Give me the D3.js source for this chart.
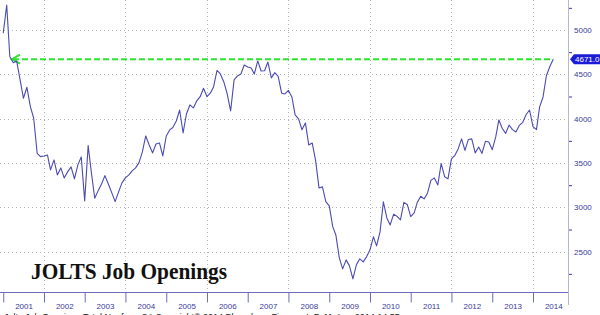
<!DOCTYPE html>
<meta charset="utf-8">
<style>
    body { margin: 0; background: #fff; }
    svg { display: block; }
    .grid line { stroke: #b4b4b4; stroke-width: 1; stroke-dasharray: 1, 3; }
    .axis text { font: 8px "Liberation Sans", sans-serif; fill: #3a3aa0; }
    .axis path { display: none; }
    .yaxis .tick line { stroke: #3a3aa0; }
    .xaxis .tick line { stroke: #6b6bc0; }
    .series { fill: none; stroke: #4b4bb4; stroke-width: 1.1; stroke-linejoin: round; }
    .last { fill: none; stroke: #2ee22e; stroke-width: 2; stroke-dasharray: 6, 3; }
    .title { font: bold 23px "Liberation Serif", "Times New Roman", serif; fill: #111; }
    .source { font: 9px "Liberation Sans", sans-serif; fill: #222; }
</style>
<body>
<script src="https://cdn.jsdelivr.net/npm/d3@7/dist/d3.min.js"></script>
<script>

    // monthly JOLTS job openings (thousands), Dec 2000 .. Jun 2014
    var startMonth = "2000-12";
    var openings = [
        4963, 5282, 4699, 4631, 4651, 4437, 4230, 4354, 4136, 4005, 3610, 3572,
        3580, 3591, 3422, 3535, 3366, 3445, 3332, 3400, 3456, 3321, 3479, 3569,
        3073, 3696, 3400, 3103, 3186, 3264, 3358, 3264, 3163, 3065, 3174, 3276,
        3332, 3366, 3411, 3445, 3501, 3625, 3805, 3704, 3614, 3715, 3726, 3580,
        3805, 3873, 3901, 3974, 4098, 3839, 4053, 4155, 4121, 4200, 4248, 4343,
        4248, 4290, 4358, 4544, 4504, 4414, 4279, 4087, 4437, 4482, 4504, 4606,
        4583, 4572, 4504, 4651, 4538, 4541, 4639, 4459, 4519, 4476, 4287, 4279,
        4318, 4245, 4042, 3997, 3875, 3952, 3704, 3726, 3524, 3219, 3231, 3065,
        3017, 2783, 2689, 2430, 2306, 2408, 2340, 2194, 2352, 2419, 2385, 2442,
        2521, 2667, 2566, 2723, 3062, 2881, 2802, 2923, 2898, 2859, 3056, 3033,
        2896, 2938, 3056, 3125, 3095, 3163, 3304, 3332, 3253, 3495, 3346, 3321,
        3546, 3587, 3659, 3772, 3642, 3766, 3772, 3614, 3681, 3608, 3746, 3738,
        3650, 3794, 3986, 3889, 3834, 3929, 3877, 3850, 3925, 3959, 4047, 4098,
        3910, 3877, 4130, 4245, 4484, 4588, 4671
    ];
    var years = [2001, 2002, 2003, 2004, 2005, 2006, 2007, 2008, 2009, 2010, 2011, 2012, 2013, 2014];
    var yTicks = [2500, 3000, 3500, 4000, 4500, 5000];
    var yMinorTicks = [2250, 2750, 3250, 3750, 4250, 4750, 5250];
    var lastValue = 4671.0;
    var titleText = "JOLTS Job Openings";
    var sourceText = "Jolts Job Openings Total Nonfarm SA     Copyright\u00a9 2014 Bloomberg Finance L.P.     11-Aug-2014 14:55";

    var width = 600, height = 315,
        plotRight = 568, plotBottom = 292;

    var parseMonth = d3.timeParse("%Y-%m");
    var first = parseMonth(startMonth);

    // each monthly reading is drawn at the end of its month
    var data = openings.map(function(v, i) {
        return { date: d3.timeMonth.offset(first, i + 1), value: v };
    });

    var x = d3.scaleTime()
        .domain([new Date(2001, 0, 1), new Date(2014, 0, 1)])
        .range([3.25, 533]);

    var y = d3.scaleLinear()
        .domain([2500, 5000])
        .range([251.7, 30]);

    var svg = d3.select("body").append("svg")
        .attr("width", width)
        .attr("height", height);

    // grid
    var grid = svg.append("g").attr("class", "grid");
    grid.selectAll("line.h").data(yTicks).enter().append("line")
        .attr("class", "h")
        .attr("x1", 0).attr("x2", plotRight)
        .attr("y1", function(d) { return Math.round(y(d)) + 0.5; })
        .attr("y2", function(d) { return Math.round(y(d)) + 0.5; });
    grid.selectAll("line.v").data(years.filter(function(d) { return d % 2 === 0; })).enter().append("line")
        .attr("class", "v")
        .attr("x1", function(d) { return Math.round(x(new Date(d, 0, 1))) + 0.5; })
        .attr("x2", function(d) { return Math.round(x(new Date(d, 0, 1))) + 0.5; })
        .attr("y1", 0).attr("y2", plotBottom);

    // title
    svg.append("text")
        .attr("class", "title")
        .attr("x", 31)
        .attr("y", 279)
        .attr("textLength", 196)
        .attr("lengthAdjust", "spacingAndGlyphs")
        .text(titleText);

    // last value reference line
    var lastY = y(lastValue);
    var lastX = x(data[data.length - 1].date);
    svg.append("line")
        .attr("class", "last")
        .attr("x1", 13).attr("x2", lastX)
        .attr("y1", lastY).attr("y2", lastY);
    svg.append("path")
        .attr("fill", "none")
        .attr("stroke", "#2ee22e")
        .attr("stroke-width", 2)
        .attr("d", "M20," + (lastY - 4.5) + "L12," + lastY + "L20," + (lastY + 4.5));

    // series
    var line = d3.line()
        .x(function(d) { return x(d.date); })
        .y(function(d) { return y(d.value); });

    svg.append("path")
        .datum(data)
        .attr("class", "series")
        .attr("d", line);

    // frame
    svg.append("line")
        .attr("x1", plotRight + 0.5).attr("x2", plotRight + 0.5)
        .attr("y1", 0).attr("y2", 305)
        .attr("stroke", "#b8b8c8");
    svg.append("line")
        .attr("x1", 0).attr("x2", plotRight)
        .attr("y1", plotBottom + 0.5).attr("y2", plotBottom + 0.5)
        .attr("stroke", "#6b6bc0");

    // bottom axis: year separators and centred labels
    svg.append("g")
        .attr("class", "axis xaxis")
        .attr("transform", "translate(0," + (plotBottom + 0.5) + ")")
        .call(d3.axisBottom(x)
            .tickValues(years.map(function(d) { return new Date(d, 0, 1); }))
            .tickSize(10)
            .tickFormat(""));
    svg.append("g")
        .attr("class", "axis xaxis")
        .attr("transform", "translate(0," + (plotBottom + 8) + ")")
        .call(d3.axisBottom(x)
            .tickValues(years.map(function(d) { return new Date(d, 6, 2); }))
            .tickSize(0)
            .tickFormat(d3.timeFormat("%Y")));

    // right axis
    var yAxisG = svg.append("g")
        .attr("class", "axis yaxis")
        .attr("transform", "translate(" + (plotRight + 1) + ",0)")
        .call(d3.axisRight(y).tickValues(yTicks).tickSize(0).tickPadding(5).tickFormat(d3.format("d")));
    yAxisG.selectAll(".tick").append("path")
        .attr("d", "M0,-2L3.5,0L0,2Z")
        .attr("fill", "#3a3aa0");
    svg.append("g")
        .attr("class", "axis yaxis")
        .attr("transform", "translate(" + (plotRight + 1) + ",0)")
        .call(d3.axisRight(y).tickValues(yMinorTicks).tickSize(3).tickFormat(""));

    // last value tag
    var tag = svg.append("g").attr("transform", "translate(" + (plotRight + 2) + "," + lastY + ")");
    tag.append("path")
        .attr("d", "M0,0L4,-5L32,-5L32,5L4,5Z")
        .attr("fill", "#1c1cd8");
    tag.append("text")
        .attr("x", 5)
        .attr("y", 3)
        .attr("fill", "#fff")
        .style("font", "8px 'Liberation Sans', sans-serif")
        .text(d3.format(".1f")(lastValue));

    // source line, cut by the bottom edge
    svg.append("text")
        .attr("class", "source")
        .attr("x", 4)
        .attr("y", 320)
        .text(sourceText);

</script>
